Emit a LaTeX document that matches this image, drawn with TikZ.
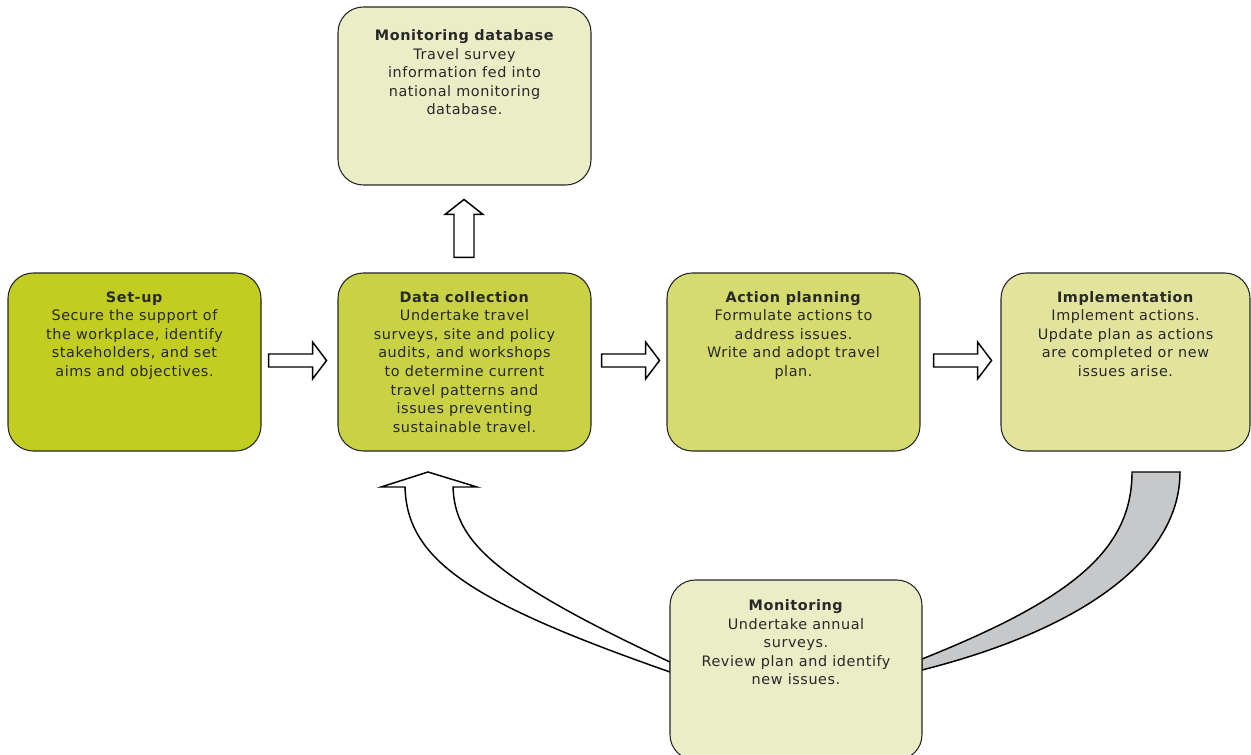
\documentclass[tikz,border=0pt]{standalone}
\usepackage{fontspec}
\setmainfont{DejaVu Sans}[LetterSpace=4]
\usetikzlibrary{calc}
\definecolor{cSetup}{RGB}{194,205,34}
\definecolor{cData}{RGB}{201,210,68}
\definecolor{cAction}{RGB}{213,219,110}
\definecolor{cImpl}{RGB}{226,228,157}
\definecolor{cLight}{RGB}{235,237,199}
\definecolor{cGrey}{RGB}{199,200,202}
\definecolor{cText}{RGB}{40,40,40}
\begin{document}
\begin{tikzpicture}[x=0.75pt,y=-0.75pt,
  box/.style={draw=black!85, line width=0.8pt, rounded corners=19pt,
    minimum width=189.75pt, minimum height=133.5pt, inner sep=0pt},
  txt/.style={anchor=north, align=center, inner sep=0pt, text=cText,
    font=\fontsize{10.8}{13.9}\selectfont},
  blk/.style={draw=black, line width=1.1pt, fill=white, line join=miter}]
\useasboundingbox (0,0) rectangle (1251,755);

% curved connectors (drawn first, boxes cover their ends)
\coordinate (wTip) at (428,472);
\draw[blk] (670,672) .. controls (470,602) and (407,560) .. (405,487)
  -- (381,487) -- (wTip) -- (477,487) -- (453,487)
  .. controls (455,540) and (490,578) .. (670,662) -- cycle;
\draw[blk, fill=cGrey] (1132,472) -- (1180,472)
  .. controls (1180,560) and (1080,630) .. (922,670) -- (922,659)
  .. controls (1072,599) and (1132,550) .. (1132,472) -- cycle;

% boxes
\node[box, fill=cSetup] (setup) at (134.5,362) {};
\node[box, fill=cData] (data) at (464.5,362) {};
\node[box, fill=cAction] (action) at (793.5,362) {};
\node[box, fill=cImpl, minimum width=186.75pt] (impl) at (1125.5,362) {};
\node[box, fill=cLight] (mdb) at (464.5,96) {};
\node[box, fill=cLight, minimum width=189pt, minimum height=135pt] (mon) at (796,670) {};

% texts
\node[txt] (setupT) at ([yshift=-14pt]setup.north) {\textbf{Set-up}\\Secure the support of\\the workplace, identify\\stakeholders, and set\\aims and objectives.};
\node[txt] (dataT) at ([yshift=-14pt]data.north) {\textbf{Data collection}\\Undertake travel\\surveys, site and policy\\audits, and workshops\\to determine current\\travel patterns and\\issues preventing\\sustainable travel.};
\node[txt] (actionT) at ([yshift=-14pt]action.north) {\textbf{Action planning}\\Formulate actions to\\address issues.\\Write and adopt travel\\plan.};
\node[txt] (implT) at ([yshift=-14pt]impl.north) {\textbf{Implementation}\\Implement actions.\\Update plan as actions\\are completed or new\\issues arise.};
\node[txt] (mdbT) at ([yshift=-17.25pt]mdb.north) {\textbf{Monitoring database}\\Travel survey\\information fed into\\national monitoring\\database.};
\node[txt] (monT) at ([yshift=-15pt]mon.north) {\textbf{Monitoring}\\Undertake annual\\surveys.\\Review plan and identify\\new issues.};

% block arrows right
\coordinate (a1) at ($(setup.east)+(7,-1.5)$);
\coordinate (a2) at ($(data.east)+(10,-1.5)$);
\coordinate (a3) at ($(action.east)+(13,-1.5)$);
\foreach \c in {a1,a2,a3}{
  \draw[blk] ($(\c)+(0,-6.5)$) -- ++(44,0) -- ++(0,-12) -- ++(14,18.5)
    -- ++(-14,18.5) -- ++(0,-12) -- ++(-44,0) -- cycle;
}
% block arrow up
\coordinate (u1) at ($(data.north)+(-0.5,-15)$);
\draw[blk] ($(u1)+(-10,0)$) -- ++(0,-43) -- ++(-9,0) -- ++(19,-15)
  -- ++(19,15) -- ++(-9,0) -- ++(0,43) -- cycle;
\end{tikzpicture}
\end{document}
